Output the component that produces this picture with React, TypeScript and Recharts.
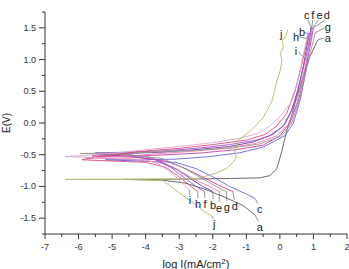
import { ComposedChart, Line, XAxis, YAxis, ReferenceDot, ReferenceLine } from 'recharts';

/* ---- polarization curves, drawn from cathodic end -> Ecorr tip -> anodic top ---- */

type Pt = [number, number];

const curveA: Pt[] = [
  [-0.74, -1.45], [-1.1, -1.3], [-1.6, -1.18], [-2.2, -1.05], [-2.8, -0.95], [-3.5, -0.9], [-4.67, -0.89],
  [-3, -0.885], [-1.5, -0.875], [-0.6, -0.865], [-0.3, -0.83], [-0.09, -0.72], [0.06, -0.44], [0.2, -0.13],
  [0.35, 0.12], [0.5, 0.4], [0.7, 0.75], [0.9, 1.05], [1.05, 1.22], [1.13, 1.31],
];
const curveB: Pt[] = [
  [-2.0, -1.08], [-2.3, -1.0], [-2.6, -0.9], [-3.1, -0.72], [-3.7, -0.58], [-4.5, -0.52], [-5.4, -0.5],
  [-4.5, -0.48], [-3.5, -0.46], [-2.5, -0.42], [-1.5, -0.37], [-0.8, -0.3], [-0.3, -0.2], [0.1, -0.05],
  [0.35, 0.2], [0.55, 0.55], [0.7, 0.9], [0.8, 1.2], [0.88, 1.42],
];
const curveC: Pt[] = [
  [-0.74, -1.19], [-1.0, -1.12], [-1.5, -1.0], [-2.0, -0.85], [-2.5, -0.72], [-3.1, -0.62], [-4.2, -0.6], [-5.2, -0.58],
  [-4.2, -0.58], [-3.1, -0.57], [-2.1, -0.53], [-1.2, -0.47], [-0.5, -0.38], [0.15, -0.2], [0.4, 0.0],
  [0.6, 0.35], [0.75, 0.75], [0.85, 1.1], [0.9, 1.35], [0.92, 1.52],
];
const curveD: Pt[] = [
  [-1.4, -1.08], [-1.75, -1.0], [-2.2, -0.88], [-2.8, -0.72], [-3.4, -0.6], [-4.3, -0.54], [-5.6, -0.52],
  [-4.3, -0.52], [-3.3, -0.5], [-2.3, -0.47], [-1.3, -0.42], [-0.5, -0.35], [0.0, -0.2], [0.3, 0.0],
  [0.55, 0.35], [0.72, 0.75], [0.86, 1.1], [0.95, 1.35], [1.0, 1.5],
];
const curveE: Pt[] = [
  [-1.8, -1.08], [-2.1, -1.0], [-2.5, -0.9], [-3.0, -0.75], [-3.6, -0.62], [-4.5, -0.57], [-5.8, -0.55],
  [-4.5, -0.52], [-3.5, -0.48], [-2.5, -0.44], [-1.5, -0.39], [-0.7, -0.32], [-0.09, -0.2], [0.25, -0.02],
  [0.5, 0.3], [0.68, 0.7], [0.82, 1.05], [0.92, 1.3], [0.97, 1.5],
];
const curveF: Pt[] = [
  [-2.25, -1.08], [-2.5, -1.0], [-2.8, -0.88], [-3.3, -0.68], [-3.8, -0.55], [-4.5, -0.5], [-5.5, -0.47],
  [-4.5, -0.46], [-3.5, -0.44], [-2.5, -0.4], [-1.5, -0.34], [-0.7, -0.27], [-0.2, -0.18], [0.15, -0.02],
  [0.4, 0.25], [0.6, 0.65], [0.78, 1.05], [0.9, 1.35], [0.95, 1.52],
];
const curveG: Pt[] = [
  [-1.6, -1.08], [-1.9, -1.0], [-2.3, -0.88], [-2.9, -0.7], [-3.5, -0.56], [-4.5, -0.5], [-5.95, -0.48],
  [-4.5, -0.47], [-3.5, -0.45], [-2.5, -0.43], [-1.5, -0.4], [-0.6, -0.33], [0.06, -0.2], [0.35, 0.0],
  [0.58, 0.35], [0.75, 0.75], [0.9, 1.1], [1.0, 1.3], [1.05, 1.42],
];
const curveH: Pt[] = [
  [-2.45, -1.08], [-2.7, -0.98], [-3.0, -0.85], [-3.4, -0.7], [-4, -0.62], [-5, -0.6], [-5.9, -0.58],
  [-5, -0.5], [-4, -0.44], [-3, -0.4], [-2, -0.34], [-1, -0.27], [-0.44, -0.18], [-0.1, -0.05],
  [0.2, 0.15], [0.45, 0.5], [0.62, 0.85], [0.75, 1.15], [0.85, 1.4],
];
const curveI: Pt[] = [
  [-2.7, -1.06], [-2.9, -0.95], [-3.2, -0.8], [-3.6, -0.65], [-4, -0.58], [-5, -0.55], [-6.4, -0.53],
  [-5, -0.48], [-4, -0.42], [-3, -0.37], [-2, -0.31], [-1.2, -0.24], [-0.68, -0.17], [-0.3, -0.05],
  [0.0, 0.1], [0.3, 0.3], [0.5, 0.6], [0.65, 0.95], [0.75, 1.2], [0.85, 1.45],
];
const curveJ: Pt[] = [
  [-2.02, -1.47], [-2.3, -1.38], [-2.6, -1.25], [-3.0, -1.1], [-3.3, -0.98], [-3.5, -0.91], [-4.5, -0.89], [-6.4, -0.89],
  [-4.5, -0.885], [-3.0, -0.885], [-2.4, -0.87], [-2.1, -0.82], [-1.9, -0.79], [-1.6, -0.72], [-1.4, -0.62],
  [-1.3, -0.55], [-1.34, -0.45], [-1.28, -0.36], [-1.31, -0.29], [-1.19, -0.25], [-0.89, -0.13], [-0.5, 0.08],
  [-0.24, 0.34], [-0.09, 0.66], [0.0, 0.81], [0.06, 0.97], [0.02, 1.1], [0.1, 1.2], [0.07, 1.3], [0.18, 1.38], [0.24, 1.47],
];

const curveNames = ['a', 'b', 'c', 'd', 'e', 'f', 'g', 'h', 'i', 'j'];
const curvePoints = [curveA, curveB, curveC, curveD, curveE, curveF, curveG, curveH, curveI, curveJ];
const curveColors = ['#5c5c5c', '#7436a8', '#6a62e2', '#d23aa2', '#e67cac', '#9c52d2', '#8e9e86', '#e04a7c', '#dca6d0', '#b8ba6a'];

/* ---- letter labels and their leader lines ---- */
const labelText = ['c', 'f', 'e', 'd', 'g', 'a', 'b', 'h', 'i', 'j', 'i', 'h', 'f', 'b', 'e', 'g', 'd', 'c', 'a', 'j'];
const labelX = [0.8, 0.98, 1.18, 1.4, 1.43, 1.43, 0.66, 0.48, 0.48, 0.04, -2.68, -2.44, -2.23, -1.99, -1.81, -1.58, -1.34, -0.6, -0.6, -1.96];
const labelY = [1.7, 1.7, 1.7, 1.7, 1.52, 1.34, 1.44, 1.36, 1.14, 1.41, -1.22, -1.27, -1.27, -1.3, -1.34, -1.33, -1.31, -1.36, -1.64, -1.6];
const leaderFrom: Pt[] = [
  [0.84, 1.62], [0.98, 1.62], [1.14, 1.62], [1.34, 1.62], [1.33, 1.5], [1.33, 1.34], [0.74, 1.43], [0.56, 1.36], [0.56, 1.12],
  [-2.7, -1.06], [-2.45, -1.08], [-2.25, -1.08], [-2.0, -1.08], [-1.8, -1.08], [-1.6, -1.08], [-1.4, -1.08], [-0.74, -1.19], [-0.74, -1.45], [-2.02, -1.47],
];
const leaderTo: Pt[] = [
  [0.92, 1.52], [0.95, 1.52], [0.97, 1.5], [1.0, 1.5], [1.05, 1.42], [1.13, 1.31], [0.86, 1.4], [0.8, 1.33], [0.68, 1.05],
  [-2.68, -1.14], [-2.44, -1.18], [-2.23, -1.18], [-1.99, -1.2], [-1.81, -1.24], [-1.58, -1.23], [-1.36, -1.21], [-0.66, -1.27], [-0.64, -1.55], [-1.98, -1.52],
];

const xTicks = [-7, -6.5, -6, -5.5, -5, -4.5, -4, -3.5, -3, -2.5, -2, -1.5, -1, -0.5, 0, 0.5, 1, 1.5, 2];
const yTicks = [-1.75, -1.5, -1.25, -1, -0.75, -0.5, -0.25, 0, 0.25, 0.5, 0.75, 1, 1.25, 1.5, 1.75];

const FONT = '"Liberation Sans", Arial, sans-serif';
const AXIS = '#333';

function XTick({ x, y, payload }: any) {
  const v = payload.value;
  const major = Number.isInteger(v);
  return (
    <g>
      <line x1={x} x2={x} y1={y} y2={y + (major ? 5 : 3)} stroke={AXIS} />
      {major && (
        <text x={x} y={y + 16} textAnchor="middle" fontSize={9} fill={AXIS} fontFamily={FONT}>
          {v}
        </text>
      )}
    </g>
  );
}

function YTick({ x, y, payload }: any) {
  const v = payload.value;
  const major = Math.abs(v * 2 - Math.round(v * 2)) < 1e-6 && Math.abs(v) < 1.7;
  return (
    <g>
      <line x1={x} x2={x - (major ? 6 : 3)} y1={y} y2={y} stroke={AXIS} />
      {major && (
        <text x={x - 9} y={y + 3} textAnchor="end" fontSize={9} fill={AXIS} fontFamily={FONT}>
          {v.toFixed(1)}
        </text>
      )}
    </g>
  );
}

export default function App() {
  return (
    <div style={{ width: 349, height: 269, background: '#fff' }}>
      <style>{'body{margin:0}'}</style>
      <ComposedChart width={349} height={269} margin={{ top: 12, right: 2, left: 0, bottom: 0 }}>
        <XAxis
          type="number"
          dataKey="x"
          domain={[-7, 2]}
          ticks={xTicks}
          interval={0}
          tick={<XTick />}
          tickLine={false}
          tickSize={0}
          tickMargin={0}
          height={35}
          stroke={AXIS}
          label={{
            content: (p: any) => {
              const vb = p.viewBox;
              return (
                <text x={vb.x + vb.width / 2} y={268} textAnchor="middle" fontSize={11} fill="#222" fontFamily={FONT}>
                  log I(mA/cm<tspan dy={-4} fontSize={8}>2</tspan><tspan dy={4}>)</tspan>
                </text>
              );
            },
          }}
        />
        <YAxis
          type="number"
          dataKey="y"
          domain={[-1.75, 1.75]}
          ticks={yTicks}
          interval={0}
          tick={<YTick />}
          tickLine={false}
          tickSize={0}
          tickMargin={0}
          width={45}
          stroke={AXIS}
          label={{
            content: (p: any) => {
              const vb = p.viewBox;
              const cy = vb.y + vb.height / 2;
              return (
                <text x={10} y={cy} transform={`rotate(-90 10 ${cy})`} textAnchor="middle" fontSize={10} fill="#222" fontFamily={FONT}>
                  E(V)
                </text>
              );
            },
          }}
        />
        {curvePoints.map((pts, i) => (
          <Line
            key={curveNames[i]}
            data={pts.map(([x, y]) => ({ x, y }))}
            dataKey="y"
            type="linear"
            stroke={curveColors[i]}
            strokeWidth={0.9}
            dot={false}
            activeDot={false}
            isAnimationActive={false}
          />
        ))}
        {leaderFrom.map((f, i) => (
          <ReferenceLine
            key={`ld-${i}`}
            segment={[{ x: f[0], y: f[1] }, { x: leaderTo[i][0], y: leaderTo[i][1] }]}
            stroke="#777"
            strokeWidth={0.8}
          />
        ))}
        {labelText.map((t, i) => (
          <ReferenceDot
            key={`lb-${i}`}
            x={labelX[i]}
            y={labelY[i]}
            r={0}
            shape={(p: any) => (
              <text x={p.cx} y={p.cy + 4} textAnchor="middle" fontSize={11} fill="#222" fontFamily={FONT}>
                {t}
              </text>
            )}
          />
        ))}
      </ComposedChart>
    </div>
  );
}
